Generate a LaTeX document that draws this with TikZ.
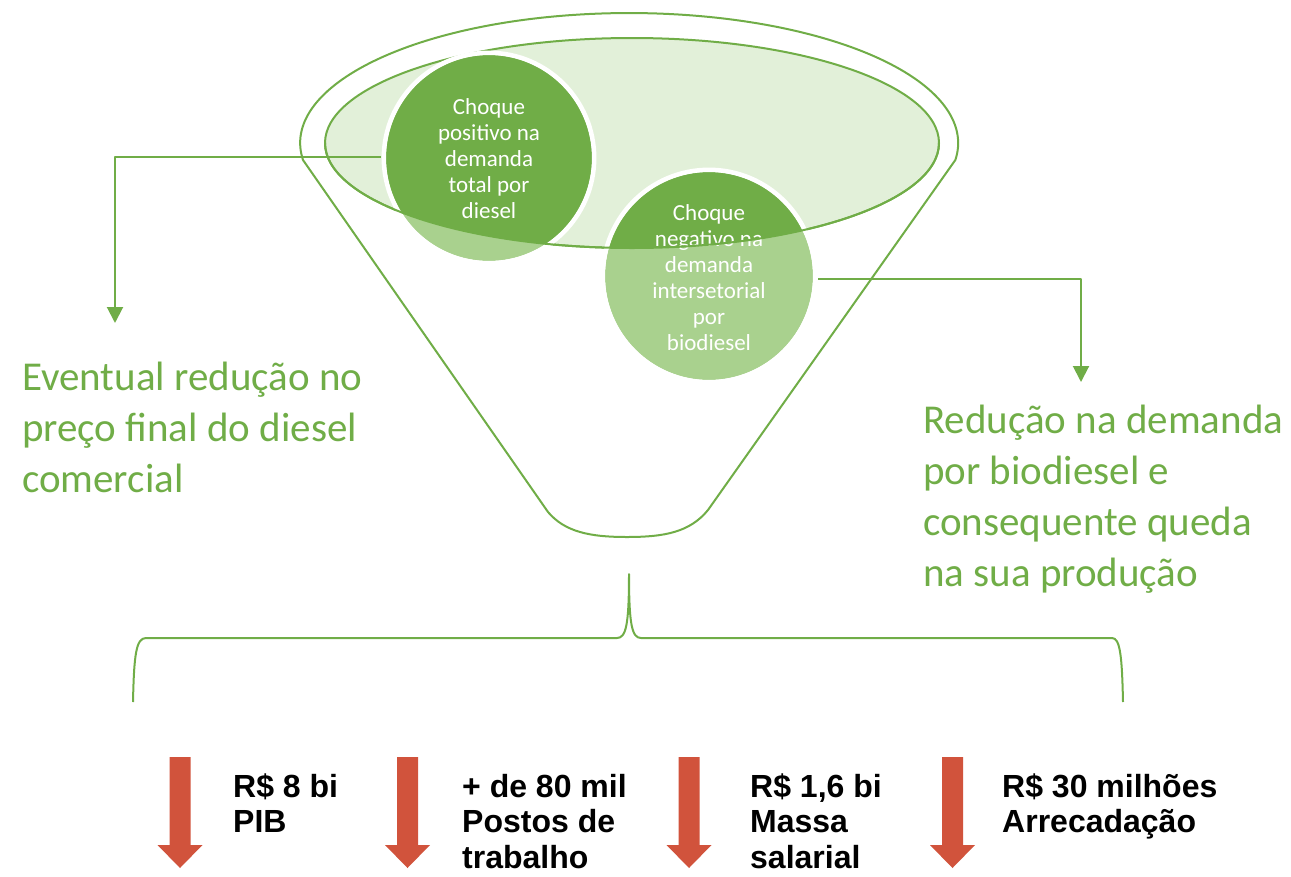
\documentclass[tikz,border=0pt]{standalone}
\usepackage{fontspec}
\setmainfont{Carlito}
\newfontfamily\arialf{Liberation Sans}
\usetikzlibrary{arrows.meta}
\definecolor{gr}{HTML}{70AD47}
\definecolor{lightg}{HTML}{A9D18E}
\definecolor{paleg}{HTML}{E2F0D9}
\definecolor{redc}{HTML}{D1533C}
\newcommand\lns[1]{\vtop{\lineskiplimit=-100pt\halign{##\hfil\cr#1\crcr}}}
\begin{document}
\begin{tikzpicture}[x=1pt,y=1pt,line join=round,
  gline/.style={draw=gr,line width=2pt},
  circ/.style={circle,minimum size=#1,inner sep=0pt},
  ctext/.style={text=white,font=\fontsize{23}{26}\selectfont,align=center},
  gtext/.style={text=gr,font=\fontsize{41}{51}\selectfont,anchor=base west,inner sep=0pt},
  rtext/.style={font=\arialf\bfseries\fontsize{32}{35.5}\selectfont,anchor=base west,inner sep=0pt},
  conn/.style={draw=gr,line width=2pt,-{Triangle[length=16pt,width=16pt]}},
  redarrow/.pic={\fill[redc] (-10.5,0) -- (10.5,0) -- (10.5,-88) -- (22.5,-88) -- (0,-111) -- (-22.5,-88) -- (-10.5,-88) -- cycle;}
]
\useasboundingbox (0,-876) rectangle (1291,0);
% funnel outline
\draw[gline] (303,-160) arc[start angle=187.5,end angle=-7.5,x radius=329,y radius=130]
  -- (708,-510) .. controls (690,-532) and (665,-537) .. (627,-537)
  .. controls (590,-537) and (565,-532) .. (548,-512) -- cycle;
% inner ellipse
\fill[paleg] (632,-143) ellipse[x radius=307,y radius=105];
\draw[gline] (632,-143) ellipse[x radius=307,y radius=105];
% circles
\coordinate (p1) at (489,-158);
\coordinate (p2) at (709,-276);
\fill[lightg] (p1) circle[radius=103];
\fill[lightg] (p2) circle[radius=104];
\begin{scope}
  \clip (632,-143) ellipse[x radius=307,y radius=105];
  \fill[gr] (p1) circle[radius=103];
  \fill[gr] (p2) circle[radius=104];
\end{scope}
\draw[white,line width=4.5pt] (p1) circle[radius=105.2];
\draw[white,line width=4.5pt] (p2) circle[radius=106.2];
\node[circ=206pt,ctext] (c1) at ([yshift=-1pt]p1) {Choque\\positivo na\\demanda\\total por\\diesel};
\node[circ=208pt,ctext] (c2) at ([yshift=-2pt]p2) {Choque\\negativo na\\demanda\\intersetorial\\por\\biodiesel};
% lower half of inner ellipse outline over circles
\draw[gline] (325,-143) arc[start angle=180,end angle=360,x radius=307,y radius=105];
% connectors
\coordinate (e1) at (115,-323);
\coordinate (e2) at (1081,-382);
\draw[conn,shorten <=5pt] ([yshift=2pt]c1.west) -| (e1);
\draw[conn,shorten <=5pt] ([yshift=-1pt]c2.east) -| (e2);
% green texts
\node[gtext] (t1) at (22,-390) {\lns{Eventual redução no\cr preço final do diesel\cr comercial}};
\node[gtext] (t2) at (923,-433) {\lns{Redução na demanda\cr por biodiesel e\cr consequente queda\cr na sua produção}};
% brace
\draw[gline] (133,-702) .. controls (134,-655) and (136,-638) .. (146,-638) -- (617,-638)
  .. controls (626,-638) and (629,-625) .. (629,-574)
  .. controls (629,-625) and (632,-638) .. (641,-638) -- (1112,-638)
  .. controls (1120,-638) and (1122,-655) .. (1123,-702);
% red arrows
\pic at (180,-757) {redarrow};
\pic at (407.5,-757) {redarrow};
\pic at (689,-757) {redarrow};
\pic at (952.5,-757) {redarrow};
% red labels
\node[rtext] (r1) at (233,-797) {\lns{R\$ 8 bi\cr PIB}};
\node[rtext] (r2) at (462,-797) {\lns{+ de 80 mil\cr Postos de\cr trabalho}};
\node[rtext] (r3) at (750,-797) {\lns{R\$ 1,6 bi\cr Massa\cr salarial}};
\node[rtext] (r4) at (1002,-797) {\lns{R\$ 30 milhões\cr Arrecadação}};
\end{tikzpicture}
\end{document}
